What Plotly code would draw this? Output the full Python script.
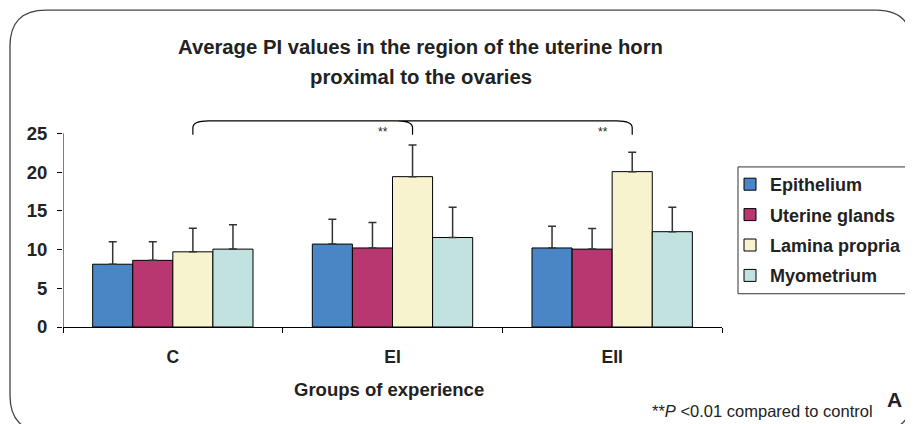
import plotly.graph_objects as go

# données
groups = ["C", "EI", "EII"]
series = ["Epithelium", "Uterine glands", "Lamina propria", "Myometrium"]
values = {
    "Epithelium": [8.1, 10.7, 10.2],
    "Uterine glands": [8.6, 10.2, 10.05],
    "Lamina propria": [9.7, 19.4, 20.05],
    "Myometrium": [10.05, 11.55, 12.3],
}
errors = {
    "Epithelium": [2.9, 3.2, 2.8],
    "Uterine glands": [2.4, 3.3, 2.65],
    "Lamina propria": [3.05, 4.1, 2.5],
    "Myometrium": [3.15, 3.9, 3.15],
}
colors = ["#4a86c5", "#b83770", "#f8f3cf", "#c2e2e0"]
yticks = [0, 5, 10, 15, 20, 25]

# la page a une marge de 8 px : on travaille en pixels écran puis on décale
OFF = 8
W, H = 913 - OFF, 424 - OFF
L, R, T = 55, 191, 110
B = H - (327.3 - OFF)
FONT = "Arial, Liberation Sans, sans-serif"
BARGAP = 0.27

def px(x, y):
    # pixels écran -> coordonnées paper
    x, y = x - OFF, y - OFF
    return (x - L) / (W - L - R), (H - B - y) / (H - T - B)

def cont(x, y):
    # pixels écran -> coordonnées container
    return (x - OFF) / W, 1 - (y - OFF) / H

xs = list(range(len(groups)))
fig = go.Figure()
for name, col in zip(series, colors):
    fig.add_trace(go.Bar(
        x=xs, y=values[name], name=name, legendgroup=name,
        marker=dict(color=col, line=dict(color="black", width=1)),
        error_y=dict(type="data", array=errors[name], arrayminus=[0] * 3,
                     symmetric=False, color="#333333", thickness=1.5, width=4),
    ))

# centre de la barre "Lamina propria" dans chaque groupe
n = len(series)
bw = (1 - BARGAP) / n
lam_off = -(1 - BARGAP) / 2 + bw * (series.index("Lamina propria") + 0.5)
lam_x = [i + lam_off for i in xs]

# accolade de significativité
y_top, y_low = 26.6, 24.8
dx, dy = 0.07, 0.9
x0, x1, x2 = lam_x
path = (f"M {x0},{y_low} L {x0},{y_top - dy} Q {x0},{y_top} {x0 + dx},{y_top} "
        f"L {x2 - dx},{y_top} Q {x2},{y_top} {x2},{y_top - dy} L {x2},{y_low} "
        f"M {x1 - dx},{y_top} Q {x1},{y_top} {x1},{y_top - dy} L {x1},{y_low}")
fig.add_shape(type="path", path=path, xref="x", yref="y",
              line=dict(color="black", width=1.2))
for xi in (x1, x2):
    fig.add_annotation(x=xi - 0.135, y=25.2, text="**", showarrow=False,
                       font=dict(size=12, color="#222"), xref="x", yref="y")

# axe y dessiné à la main (s'arrête à 25)
fig.add_shape(type="line", x0=-0.5, x1=-0.5, y0=0, y1=max(yticks), xref="x", yref="y",
              line=dict(color="black", width=1))

# cadre arrondi autour de la figure
bl, bt, br, bb, r = 10, 10, 912, 432, 36
def P(x, y):
    a, b = px(x, y)
    return f"{a},{b}"
frame = (f"M {P(bl, bt + r)} Q {P(bl, bt)} {P(bl + r, bt)} L {P(br - r, bt)} "
         f"Q {P(br, bt)} {P(br, bt + r)} L {P(br, bb - r)} Q {P(br, bb)} {P(br - r, bb)} "
         f"L {P(bl + r, bb)} Q {P(bl, bb)} {P(bl, bb - r)} Z")
fig.add_shape(type="path", path=frame, xref="paper", yref="paper",
              line=dict(color="#444", width=1.3))

# cadre de la légende
lx0, ly0 = px(738, 167)
lx1, ly1 = px(935, 294)
fig.add_shape(type="rect", x0=lx0, y0=ly0, x1=lx1, y1=ly1, xref="paper", yref="paper",
              line=dict(color="#333", width=1))

lgx, lgy = cont(730, 166)
fig.update_layout(
    width=W, height=H, margin=dict(l=L, r=R, t=T, b=B, autoexpand=False),
    paper_bgcolor="white", plot_bgcolor="white",
    font=dict(family=FONT, color="#222"),
    barmode="group", bargap=BARGAP, bargroupgap=0,
    showlegend=True,
    legend=dict(x=lgx, y=lgy, xref="container", yref="container",
                xanchor="left", yanchor="top", traceorder="grouped",
                tracegroupgap=4, bgcolor="rgba(0,0,0,0)", borderwidth=0,
                font=dict(size=18, family=FONT, color="#222", weight="bold"),
                itemwidth=30),
    xaxis=dict(range=[-0.5, 2.5], tickvals=xs, ticktext=groups, ticks="",
               showline=True, linecolor="black", linewidth=1, showgrid=False,
               zeroline=False, tickfont=dict(size=17.5, weight="bold"),
               ticklabelstandoff=14,
               minor=dict(tickvals=[-0.5, 0.5, 1.5, 2.5], ticks="outside",
                          ticklen=5, tickcolor="black")),
    yaxis=dict(range=[0, (H - T - B) / 7.76], tickvals=yticks, ticks="outside",
               ticklen=5, tickcolor="black", showline=False, showgrid=False,
               zeroline=False, tickfont=dict(size=18.5, weight="bold"),
               ticklabelstandoff=6),
)

def note(x, y, text, **font):
    ax, ay = px(x, y)
    fig.add_annotation(x=ax, y=ay, xref="paper", yref="paper", showarrow=False,
                       xanchor="center", yanchor="middle", text=text, font=font)

title_lines = ["Average PI values in the region of the uterine horn",
               "proximal to the ovaries"]
for line, ypix in zip(title_lines, (47, 77)):
    note(421, ypix, line, size=20.3, weight="bold", color="#222")
note(389, 390, "Groups of experience", size=18.5, weight="bold")
note(762, 411, "**<i>P</i> <0.01 compared to control", size=16.5)
note(894, 400, "A", size=21, weight="bold")

fig.write_html("out.html")
